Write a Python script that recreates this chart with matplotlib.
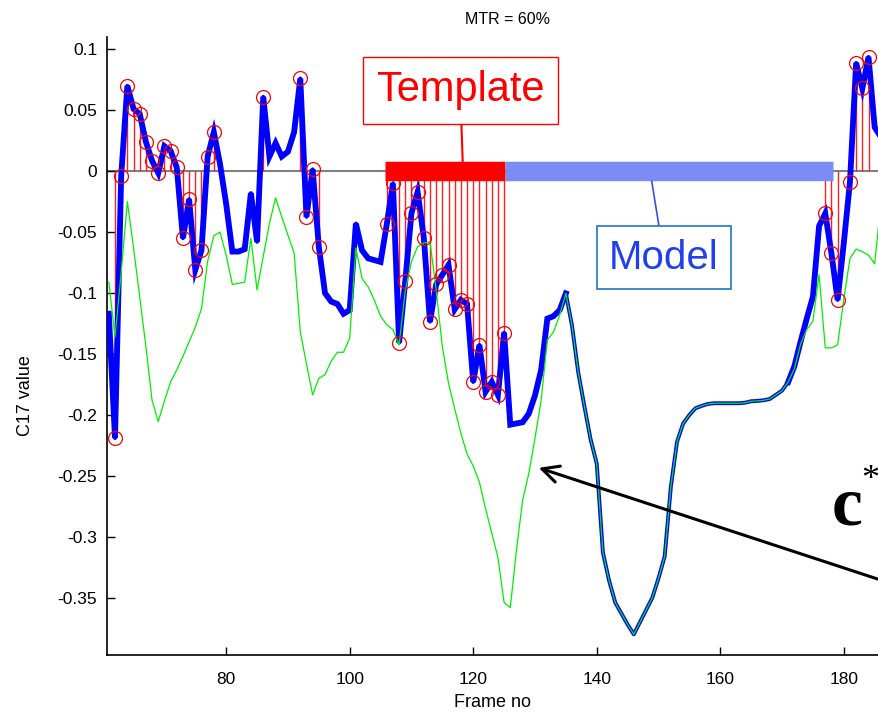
import numpy as np
import matplotlib
matplotlib.use("Agg")
import matplotlib.pyplot as plt

plt.rcParams['font.family'] = ['Liberation Sans', 'DejaVu Sans']
plt.rcParams['axes.unicode_minus'] = False

# frame numbers along the sequence
frames = np.arange(61, 187)

# C17 coefficient of the observed sequence (thick blue)
c17 = [
    -0.117, -0.219, -0.004, 0.070, 0.051, 0.047, 0.024, 0.0085, -0.0015, 0.0205,
    0.0167, 0.003, -0.055, -0.023, -0.081, -0.065, 0.012, 0.032, 0.006, -0.027,
    -0.066, -0.066, -0.064, -0.018, -0.058, 0.061, 0.012, 0.023, 0.012, 0.016,
    0.032, 0.076, -0.0375, 0.0015, -0.062, -0.100, -0.107, -0.109, -0.117, -0.114,
    -0.043, -0.065, -0.0716, -0.073, -0.0745, -0.0437, -0.010, -0.1407, -0.090, -0.0345,
    -0.017, -0.0546, -0.1235, -0.093, -0.085, -0.077, -0.1134, -0.1057, -0.109, -0.173,
    -0.1426, -0.181, -0.173, -0.1836, -0.1325, -0.208, -0.207, -0.206, -0.199, -0.184,
    -0.163, -0.121, -0.119, -0.114, -0.1003, -0.127, -0.165, -0.193, -0.220, -0.240,
    -0.313, -0.336, -0.354, -0.363, -0.372, -0.380, -0.370, -0.360, -0.350, -0.334,
    -0.316, -0.259, -0.222, -0.207, -0.200, -0.1945, -0.1926, -0.191, -0.1904, -0.1904,
    -0.1904, -0.1904, -0.1904, -0.190, -0.1888, -0.1885, -0.188, -0.187, -0.1836, -0.180,
    -0.173, -0.160, -0.140, -0.121, -0.103, -0.045, -0.0347, -0.0675, -0.1057, -0.059,
    -0.0088, 0.0888, 0.0678, 0.0937, 0.036, 0.028,
]

# reconstructed c* (thin green)
c_star = [
    -0.091, -0.136, -0.083, -0.025, -0.063, -0.103, -0.144, -0.188, -0.2055, -0.1885,
    -0.173, -0.163, -0.152, -0.140, -0.128, -0.113, -0.074, -0.053, -0.050, -0.069,
    -0.093, -0.092, -0.091, -0.055, -0.0975, -0.070, -0.043, -0.022, -0.0375, -0.0525,
    -0.067, -0.132, -0.158, -0.1836, -0.170, -0.167, -0.156, -0.1486, -0.1486, -0.137,
    -0.063, -0.088, -0.095, -0.106, -0.119, -0.126, -0.130, -0.1426, -0.098, -0.074,
    -0.062, -0.059, -0.058, -0.0975, -0.144, -0.174, -0.195, -0.215, -0.232, -0.242,
    -0.255, -0.277, -0.297, -0.317, -0.354, -0.358, -0.311, -0.270, -0.248, -0.219,
    -0.188, -0.1385, -0.132, -0.118, -0.1003, -0.127, -0.165, -0.193, -0.220, -0.240,
    -0.313, -0.336, -0.354, -0.363, -0.372, -0.380, -0.370, -0.360, -0.350, -0.334,
    -0.316, -0.259, -0.222, -0.207, -0.200, -0.1945, -0.1926, -0.191, -0.1904, -0.1904,
    -0.1904, -0.1904, -0.1904, -0.190, -0.1888, -0.1885, -0.188, -0.187, -0.1836, -0.180,
    -0.173, -0.162, -0.142, -0.130, -0.123, -0.085, -0.145, -0.145, -0.1426, -0.105,
    -0.0716, -0.064, -0.066, -0.069, -0.076, -0.0265,
]

# frames flagged as outliers (stems + circles)
outlier_frames = list(range(62, 79)) + [86, 92, 93, 94, 95] + list(range(106, 126)) \
    + [177, 178, 179, 181, 182, 183, 184]

template_span = [105.7, 125.1]
model_span = [125.1, 178.2]

yticks = [-0.35, -0.3, -0.25, -0.2, -0.15, -0.1, -0.05, 0, 0.05, 0.1]
ytick_labels = ['-0.35', '-0.3', '-0.25', '-0.2', '-0.15', '-0.1', '-0.05', '0', '0.05', '0.1']
xticks = [80, 100, 120, 140, 160, 180]

c17 = np.array(c17)
c_star = np.array(c_star)

fig = plt.figure(figsize=(8.79, 7.14), dpi=100)
ax = fig.add_axes([0.1217, 0.0826, 0.8783, 0.8655])

ax.axhline(0, color='#808080', lw=1.5, zorder=1)

# stems from zero to each outlier
idx = np.searchsorted(frames, outlier_frames)
ax.vlines(frames[idx], 0, c17[idx], color='#ff2020', lw=1.0, zorder=2)

# blue is drawn thick where it departs from c*, thinner where they coincide
same = np.isclose(c17, c_star)
diff = ~same
thick_mask = diff | np.roll(diff, 1) | np.roll(diff, -1)
ax.plot(frames, c17, color='#0000ff', lw=2.8, zorder=3)
ax.plot(frames, np.where(thick_mask, c17, np.nan), color='#0000ff', lw=4.2,
        zorder=3, solid_joinstyle='miter')
ax.plot(frames, c_star, color='#00ee00', lw=0.9, zorder=4)

ax.plot(frames[idx], c17[idx], 'o', mfc='none', mec='#ff0000', mew=0.9, ms=10, zorder=5)

# template / model bars on the zero line
ax.plot(template_span, [0, 0], color='#ff0000', lw=14, solid_capstyle='butt', zorder=6)
ax.plot(model_span, [0, 0], color='#7b8cf5', lw=14, solid_capstyle='butt', zorder=6)

ax.annotate('Template', xy=(118.3, 0.0074), xytext=(117.9, 0.0664),
            ha='center', va='center', fontsize=30, color='#ff0000',
            bbox=dict(boxstyle='square,pad=0.32', fc='white', ec='#ff0000', lw=1),
            arrowprops=dict(arrowstyle='-', color='#ff0000', lw=1.5,
                            shrinkA=0, shrinkB=0), zorder=7)
ax.annotate('Model', xy=(148.9, -0.0082), xytext=(150.9, -0.0709),
            ha='center', va='center', fontsize=29, color='#2040f0',
            bbox=dict(boxstyle='square,pad=0.3', fc='white', ec='#1a78c2', lw=1.2),
            arrowprops=dict(arrowstyle='-', color='#3050f0', lw=1.2,
                            shrinkA=0, shrinkB=0), zorder=7)

# pointer to the c* curve
ax.annotate('', xy=(130.6, -0.2434), xytext=(187.5, -0.338),
            arrowprops=dict(arrowstyle='->', color='black', lw=2.2,
                            mutation_scale=30, shrinkA=0, shrinkB=0),
            annotation_clip=False, zorder=7)
ax.text(180.5, -0.290, 'c', fontsize=50, fontweight='bold',
        family=['Liberation Serif', 'DejaVu Serif'], ha='center', va='baseline', zorder=7)
ax.text(184.3, -0.254, '*', fontsize=26,
        family=['Liberation Serif', 'DejaVu Serif'], ha='center', va='center', zorder=7)

ax.set_xlim(60.7, 185.7)
ax.set_ylim(-0.397, 0.11)
ax.set_xticks(xticks)
ax.set_yticks(yticks)
ax.set_yticklabels(ytick_labels)
ax.tick_params(direction='in', length=6, width=1, labelsize=12.5)
ax.tick_params(axis='x', pad=12)
ax.tick_params(axis='y', pad=7)
for side in ['top', 'right']:
    ax.spines[side].set_visible(False)
for side in ['left', 'bottom']:
    ax.spines[side].set_linewidth(1.2)

ax.set_xlabel('Frame no', fontsize=13)
ax.set_ylabel('C17 value', fontsize=13)
ax.xaxis.set_label_coords(0.5, -0.0631)
ax.yaxis.set_label_coords(-0.095, 0.42)
fig.text(508 / 879, 0.972, 'MTR = 60%', ha='center', va='center', fontsize=11.5)

fig.savefig('out.png', dpi=100)
